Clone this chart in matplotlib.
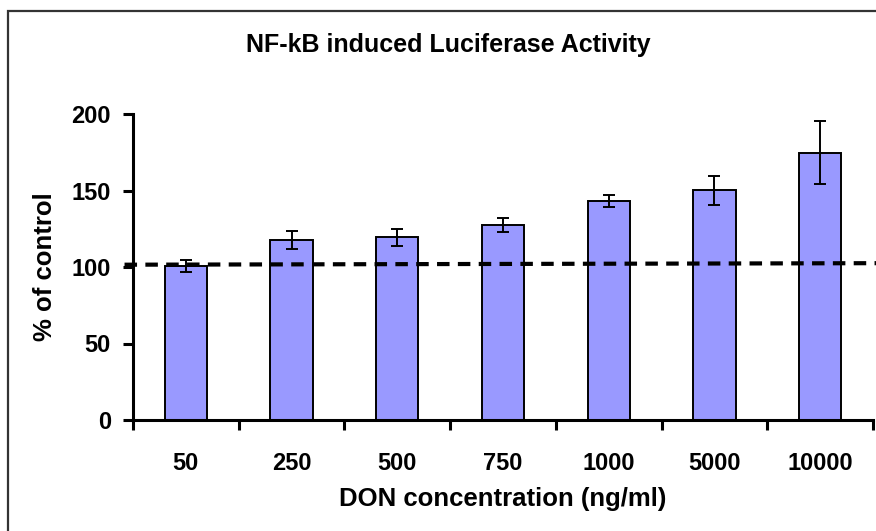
import matplotlib
matplotlib.use("Agg")
import matplotlib.pyplot as plt
from matplotlib.patches import Rectangle
import numpy as np

plt.rcParams['font.family'] = ['Liberation Sans', 'DejaVu Sans']
plt.rcParams['lines.scale_dashes'] = False

categories = ["50", "250", "500", "750", "1000", "5000", "10000"]
values = [100.5, 117.8, 119.4, 127.4, 143.3, 150.2, 174.7]
errors = [4.0, 5.8, 5.4, 4.3, 4.0, 9.4, 20.5]
baseline = [101.5, 102.5]  # dashed control line, left and right ends
y_ticks = [0, 50, 100, 150, 200]

title = "NF-kB induced Luciferase Activity"
xlabel = "DON concentration (ng/ml)"
ylabel = "% of control"

W, H = 876, 531
fig = plt.figure(figsize=(W / 100, H / 100), dpi=100)
ax = fig.add_axes([133 / W, 1 - 420 / H, (873 - 133) / W, (420 - 114) / H])

x = np.arange(len(categories))
ax.bar(x, values, width=0.40, color="#9999FF", edgecolor="black", linewidth=1.4, zorder=2)
ax.errorbar(x, values, yerr=errors, fmt="none", ecolor="black", elinewidth=1.4,
            capsize=4.5, capthick=1.4, zorder=3)

ax.plot([-0.58, 6.55], baseline, color="black", linewidth=3.0,
        linestyle=(0, (9, 6)), clip_on=False, zorder=4)

ax.set_xlim(-0.5, len(categories) - 0.5)
ax.set_ylim(0, 200)
ax.set_yticks(y_ticks)
ax.set_yticklabels([str(t) for t in y_ticks], fontsize=17, fontweight="bold")

ax.set_xticks(np.arange(len(categories) + 1) - 0.5)
ax.set_xticklabels([])
ax.set_xticks(x, minor=True)
ax.set_xticklabels(categories, minor=True, fontsize=17, fontweight="bold")
ax.tick_params(axis="x", which="minor", length=0, pad=23)
ax.tick_params(axis="x", which="major", direction="out", length=7, width=2.2)
ax.tick_params(axis="y", which="major", direction="out", length=7, width=2.2, pad=9)

for s in ["top", "right"]:
    ax.spines[s].set_visible(False)
for s in ["left", "bottom"]:
    ax.spines[s].set_linewidth(2.2)

ax.set_xlabel(xlabel, fontsize=18.5, fontweight="bold", labelpad=9)
ax.set_ylabel(ylabel, fontsize=18.5, fontweight="bold", labelpad=10)
fig.text(448 / W, 1 - 45 / H, title, fontsize=18, fontweight="bold",
         ha="center", va="center")

# figure border (top and left visible, right/bottom clipped)
fig.patches.append(Rectangle((8 / W, -0.1), 1.2, 1.1 - 11 / H,
                             transform=fig.transFigure, fill=False,
                             edgecolor="#333333", linewidth=1.6))

fig.savefig("out.png", dpi=100)
